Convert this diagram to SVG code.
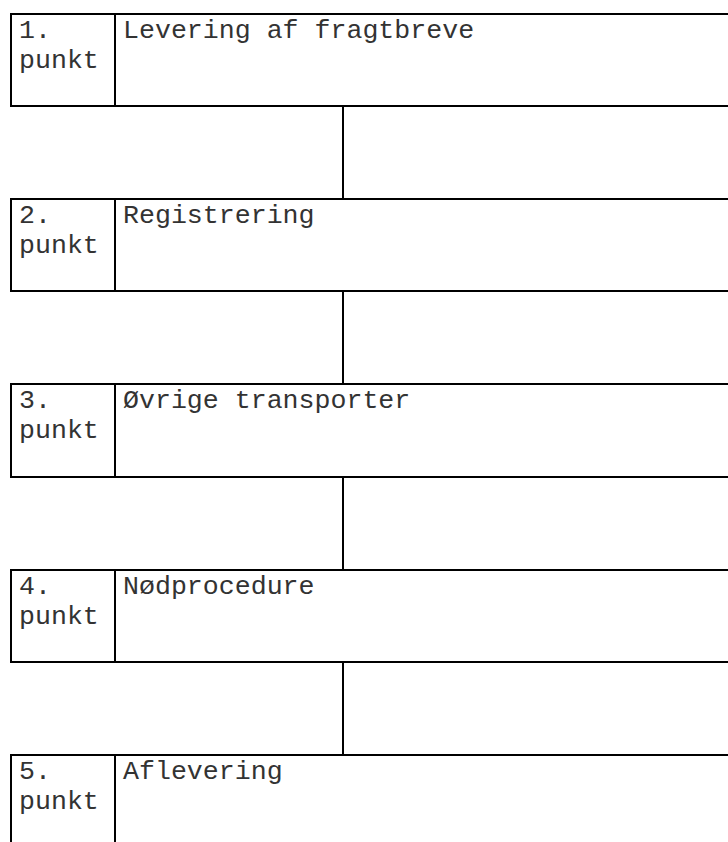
<svg xmlns="http://www.w3.org/2000/svg" width="728" height="842" viewBox="0 0 728 842">
<style>
.box{fill:#fff;stroke:#000;stroke-width:2}
.div{stroke:#000;stroke-width:2}
.con{stroke:#000;stroke-width:2;fill:none}
text{font-family:"Liberation Mono","Courier New",monospace;font-size:26.6px;fill:#333}
</style>
<rect width="728" height="842" fill="#fff"/>
<g id="connectors">
<line class="con" x1="343" y1="106" x2="343" y2="199"/>
<line class="con" x1="343" y1="291" x2="343" y2="384"/>
<line class="con" x1="343" y1="477" x2="343" y2="570"/>
<line class="con" x1="343" y1="662" x2="343" y2="755"/>
</g>
<g id="node1">
<rect class="box" x="11" y="14" width="740" height="92"/>
<line class="div" x1="115" y1="14" x2="115" y2="106"/>
<text x="19" y="38">1.</text><text x="19" y="68">punkt</text>
<text x="123" y="38">Levering af fragtbreve</text>
</g>
<g id="node2">
<rect class="box" x="11" y="199" width="740" height="92"/>
<line class="div" x1="115" y1="199" x2="115" y2="291"/>
<text x="19" y="223">2.</text><text x="19" y="253">punkt</text>
<text x="123" y="223">Registrering</text>
</g>
<g id="node3">
<rect class="box" x="11" y="384" width="740" height="93"/>
<line class="div" x1="115" y1="384" x2="115" y2="477"/>
<text x="19" y="408">3.</text><text x="19" y="438">punkt</text>
<text x="123" y="408">Øvrige transporter</text>
</g>
<g id="node4">
<rect class="box" x="11" y="570" width="740" height="92"/>
<line class="div" x1="115" y1="570" x2="115" y2="662"/>
<text x="19" y="594">4.</text><text x="19" y="624">punkt</text>
<text x="123" y="594">Nødprocedure</text>
</g>
<g id="node5">
<rect class="box" x="11" y="755" width="740" height="120"/>
<line class="div" x1="115" y1="755" x2="115" y2="875"/>
<text x="19" y="779">5.</text><text x="19" y="809">punkt</text>
<text x="123" y="779">Aflevering</text>
</g>
</svg>
